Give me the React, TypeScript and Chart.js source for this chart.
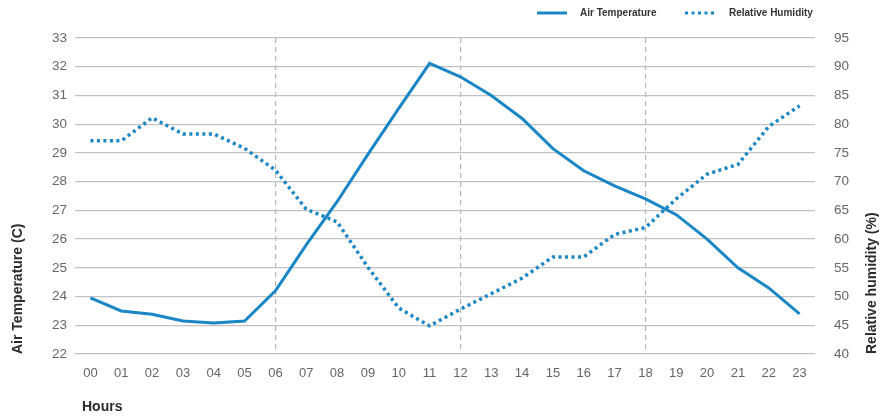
import React, { useEffect, useRef } from "react";
import { Chart, registerables } from "chart.js";

Chart.register(...registerables);

const hours = ["00","01","02","03","04","05","06","07","08","09","10","11","12","13","14","15","16","17","18","19","20","21","22","23"];
const airTemperature = [23.95, 23.5, 23.38, 23.15, 23.08, 23.15, 24.2, 25.8, 27.3, 28.95, 30.55, 32.12, 31.65, 31.0, 30.2, 29.15, 28.38, 27.85, 27.4, 26.85, 26.0, 25.0, 24.3, 23.4];
const relativeHumidity = [77.1, 77.1, 81.1, 78.3, 78.3, 75.8, 72.0, 65.2, 63.0, 55.1, 48.0, 44.9, 47.8, 50.5, 53.2, 56.9, 56.9, 60.8, 62.0, 67.0, 71.3, 73.0, 79.6, 83.2];
const dashedHours = [6, 12, 18];
const leftTitle = "Air Temperature (C)";
const rightTitle = "Relative humidity (%)";
const xTitle = "Hours";
const legendLabels = ["Air Temperature", "Relative Humidity"];

const BLUE = "#1a86c6";

export default function App() {
  const ref = useRef<HTMLCanvasElement | null>(null);
  useEffect(() => {
    if (!ref.current) return;
    const overlay = {
      id: "overlay",
      afterDraw(chart: any) {
        const ctx = chart.ctx;
        const area = chart.chartArea;
        ctx.save();
        ctx.fillStyle = "#2b2b2b";
        ctx.font = "bold 14px 'Liberation Sans', Arial, sans-serif";
        ctx.textBaseline = "middle";
        ctx.textAlign = "left";
        ctx.save();
        ctx.translate(18, area.bottom);
        ctx.rotate(-Math.PI / 2);
        ctx.fillText(leftTitle, 0, 0);
        ctx.restore();
        ctx.save();
        ctx.translate(872, area.bottom);
        ctx.rotate(-Math.PI / 2);
        ctx.fillText(rightTitle, 0, 0);
        ctx.restore();
        ctx.fillText(xTitle, 82, 407);
        ctx.font = "bold 10px 'Liberation Sans', Arial, sans-serif";
        ctx.fillStyle = "#333";
        ctx.strokeStyle = BLUE;
        ctx.lineWidth = 3;
        ctx.beginPath();
        ctx.moveTo(537, 13);
        ctx.lineTo(567, 13);
        ctx.stroke();
        ctx.fillText(legendLabels[0], 580, 13);
        ctx.setLineDash([3, 3.5]);
        ctx.beginPath();
        ctx.moveTo(685, 13);
        ctx.lineTo(716, 13);
        ctx.stroke();
        ctx.setLineDash([]);
        ctx.fillText(legendLabels[1], 729, 13);
        ctx.restore();
      },
    };
    const chart = new Chart(ref.current, {
      type: "line",
      data: {
        labels: hours,
        datasets: [
          {
            label: legendLabels[0],
            data: airTemperature,
            yAxisID: "y",
            borderColor: BLUE,
            backgroundColor: BLUE,
            borderWidth: 3,
            pointRadius: 0,
            tension: 0,
          },
          {
            label: legendLabels[1],
            data: relativeHumidity,
            yAxisID: "y1",
            borderColor: BLUE,
            backgroundColor: BLUE,
            borderWidth: 3.5,
            borderDash: [3, 3.5],
            pointRadius: 0,
            tension: 0,
          },
        ],
      },
      options: {
        animation: false,
        responsive: true,
        maintainAspectRatio: false,
        layout: { padding: { top: 38, left: 0, right: 0, bottom: 0 } },
        plugins: { legend: { display: false }, tooltip: { enabled: false } },
        scales: {
          x: {
            offset: true,
            border: { display: false, dash: [5, 4] },
            grid: {
              offset: false,
              drawTicks: false,
              color: (c: any) => (dashedHours.includes(c.index) ? "#b5b5b5" : "rgba(0,0,0,0)"),
              lineWidth: 1.2,
            },
            ticks: {
              color: "#666",
              font: { family: "'Liberation Sans', Arial, sans-serif", size: 13 },
              padding: 12,
              maxRotation: 0,
              autoSkip: false,
            },
            afterFit: (s: any) => { s.height = 65; },
          },
          y: {
            position: "left",
            min: 22,
            max: 33,
            border: { display: false },
            grid: { color: "#c2c2c2", lineWidth: 1.2, drawTicks: false },
            ticks: {
              stepSize: 1,
              color: "#666",
              font: { family: "'Liberation Sans', Arial, sans-serif", size: 13.5 },
              padding: 8,
            },
            afterFit: (s: any) => { s.width = 75; },
          },
          y1: {
            position: "right",
            min: 40,
            max: 95,
            border: { display: false },
            grid: { display: false },
            ticks: {
              stepSize: 5,
              color: "#666",
              font: { family: "'Liberation Sans', Arial, sans-serif", size: 13.5 },
              padding: 11,
            },
            afterFit: (s: any) => { s.width = 67; },
          },
        },
      },
      plugins: [overlay],
    } as any);
    return () => chart.destroy();
  }, []);
  return (
    <div style={{ position: "fixed", left: 0, top: 0, width: 882, height: 419, background: "#fff" }}>
      <canvas ref={ref} />
    </div>
  );
}
